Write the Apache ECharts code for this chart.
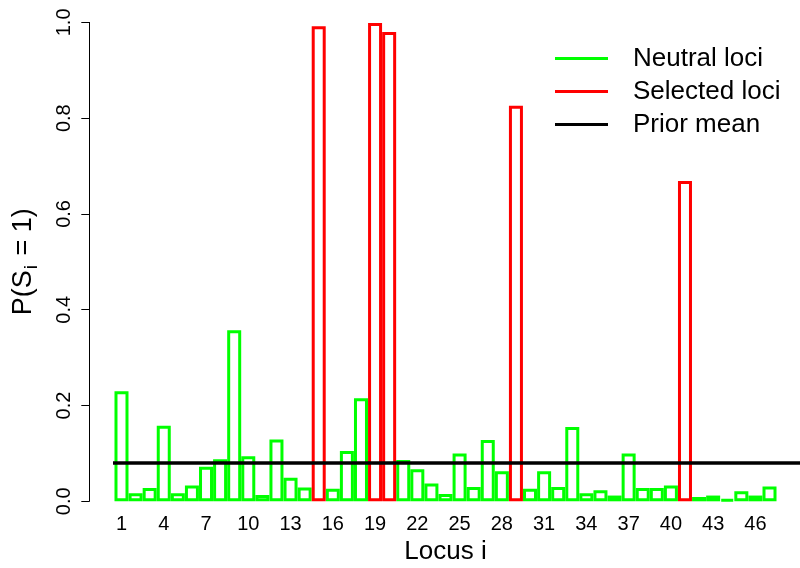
<!DOCTYPE html>
<html>
<head>
<meta charset="utf-8">
<script src="https://cdn.jsdelivr.net/npm/echarts@6/dist/echarts.min.js"></script>
<style>
html,body{margin:0;padding:0;background:#ffffff;}
#chart{width:800px;height:568px;}
</style>
</head>
<body>
<div id="chart"></div>
<script>
// ---- data ----
const loci = ["1","2","3","4","5","6","7","8","9","10","11","12","13","14","15","16","17","18","19","20",
  "21","22","23","24","25","26","27","28","29","30","31","32","33","34","35","36","37","38","39","40",
  "41","42","43","44","45","46","47"];
const posterior = [0.230,0.017,0.028,0.158,0.017,0.033,0.072,0.088,0.357,0.094,
  0.013,0.129,0.049,0.029,0.992,0.026,0.105,0.215,0.999,0.980,
  0.086,0.067,0.037,0.015,0.100,0.030,0.128,0.063,0.826,0.026,
  0.063,0.030,0.155,0.017,0.023,0.012,0.100,0.028,0.028,0.033,
  0.669,0.009,0.012,0.004,0.021,0.012,0.031];
const selectedLoci = ["15","19","20","29","41"];
const priorMean = 0.08;
const yTicks = [0, 0.2, 0.4, 0.6, 0.8, 1.0];
const legendNames = ["Neutral loci", "Selected loci", "Prior mean"];

// ---- build ----
const FONT = "Liberation Sans";
const GREEN = "#00ff00", RED = "#ff0000", BLACK = "#000000";
const neutralData = posterior.map((v, i) => selectedLoci.includes(loci[i]) ? null : v);
const selectedData = posterior.map((v, i) => selectedLoci.includes(loci[i]) ? v : null);

const chart = echarts.init(document.getElementById("chart"), null, {renderer: "canvas"});
const option = {
  animation: false,
  backgroundColor: "#ffffff",
  textStyle: {fontFamily: FONT, color: BLACK},
  legend: {
    orient: "vertical",
    left: 555, top: 45.5, padding: 0,
    itemWidth: 53, itemHeight: 3, itemGap: 7,
    icon: "rect",
    selectedMode: false,
    textStyle: {fontFamily: FONT, fontSize: 26, lineHeight: 26, color: BLACK, padding: [0, 0, 0, 20]},
    data: [
      {name: legendNames[0], itemStyle: {color: GREEN, borderWidth: 0}},
      {name: legendNames[1], itemStyle: {color: RED, borderWidth: 0}},
      {name: legendNames[2], itemStyle: {color: BLACK, borderWidth: 0}}
    ]
  },
  grid: [
    {left: 114.45, right: 23.45, top: 22.4, bottom: 66.7, containLabel: false, outerBoundsMode: "none"},
    {left: 113, right: 0, top: 22.4, bottom: 66.7, containLabel: false, outerBoundsMode: "none"}
  ],
  xAxis: [
    {
      type: "category", gridIndex: 0, data: loci,
      axisLine: {show: false}, axisTick: {show: false}, splitLine: {show: false},
      axisLabel: {interval: 2, fontFamily: FONT, fontSize: 20, color: BLACK, margin: 13},
      name: "Locus i", nameLocation: "middle", nameGap: 38,
      nameTextStyle: {fontFamily: FONT, fontSize: 26, color: BLACK}
    },
    {type: "value", gridIndex: 1, min: 0, max: 1, show: false}
  ],
  yAxis: [
    {
      type: "value", gridIndex: 0, min: yTicks[0], max: yTicks[yTicks.length - 1], interval: 0.2,
      offset: 25.15,
      axisLine: {show: true, lineStyle: {color: BLACK, width: 1}},
      axisTick: {show: true, length: 8, lineStyle: {color: BLACK, width: 1}},
      splitLine: {show: false},
      axisLabel: {rotate: 90, fontFamily: FONT, fontSize: 20, color: BLACK, margin: 15,
        formatter: v => v.toFixed(1)},
      name: "{a|P(S}{b|i}{a| = 1)}",
      nameLocation: "middle", nameRotate: 90, nameGap: 48,
      nameTextStyle: {
        fontFamily: FONT, fontSize: 27, color: BLACK,
        rich: {
          a: {fontFamily: FONT, fontSize: 27, color: BLACK, lineHeight: 31, verticalAlign: "top"},
          b: {fontFamily: FONT, fontSize: 19, color: BLACK, lineHeight: 31, verticalAlign: "top", padding: [12, 2, 0, 1]}
        }
      }
    },
    {type: "value", gridIndex: 1, min: 0, max: 1, show: false}
  ],
  series: [
    {
      name: legendNames[0], type: "bar", xAxisIndex: 0, yAxisIndex: 0,
      data: neutralData, barWidth: 14, barGap: "-100%",
      itemStyle: {color: "rgba(0,0,0,0)", borderColor: GREEN, borderWidth: 3},
      z: 2
    },
    {
      name: legendNames[1], type: "bar", xAxisIndex: 0, yAxisIndex: 0,
      data: selectedData, barWidth: 14, barGap: "-100%",
      itemStyle: {color: "rgba(0,0,0,0)", borderColor: RED, borderWidth: 3},
      z: 2
    },
    {
      name: legendNames[2], type: "line", xAxisIndex: 1, yAxisIndex: 1,
      data: [[0, priorMean], [1, priorMean]],
      symbol: "none", lineStyle: {color: BLACK, width: 3.5}, itemStyle: {color: BLACK},
      silent: true, z: 5
    }
  ]
};
chart.setOption(option);
</script>
</body>
</html>
